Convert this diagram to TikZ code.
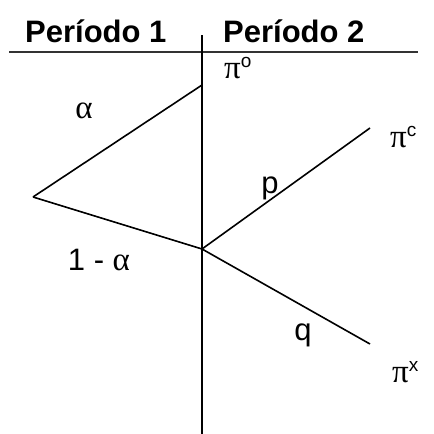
\documentclass[tikz,border=0pt]{standalone}
\usepackage{fontspec}
\setmainfont{Liberation Sans}
\newfontfamily\greekfont{Liberation Serif}
\usepackage{tikz}
\usetikzlibrary{positioning,calc}

\newcommand{\supr}[1]{\raisebox{11pt}{\fontsize{19}{20}\selectfont #1}}
\newcommand{\gr}[1]{{\greekfont\fontsize{33}{36}\selectfont #1}}

\begin{document}
\begin{tikzpicture}[
    x=1pt,y=-1pt,
    branch/.style={line width=1.6pt,draw=black},
    divider/.style={line width=2pt,draw=black},
    header/.style={font=\fontsize{31}{36}\selectfont\bfseries,anchor=base west,inner sep=0pt},
    lbl/.style={font=\fontsize{31}{36}\selectfont,inner sep=0pt}
  ]
    \useasboundingbox (0,0) rectangle (434,434);

    % period headers and divider lines
    \node[header] (per1) at (25,42) {Período 1};
    \node[header] (per2) at (223,42) {Período 2};
    \coordinate (hl) at (9,52);
    \coordinate (hr) at (418,52);
    \coordinate (vt) at (202,35);
    \coordinate (vb) at (202,434);
    \draw[line width=1.4pt,draw=black!80] (hl) -- (hr);
    \draw[divider] (vt) -- (vb);

    % tree
    \coordinate (root) at (33,197);
    \coordinate (up) at (202,85);
    \coordinate (mid) at (202,249);
    \coordinate (pc) at (370,128);
    \coordinate (px) at (370,344);
    \draw[branch] (root) -- (up);
    \draw[branch] (root) -- (mid);
    \draw[branch] (mid) -- (pc);
    \draw[branch] (mid) -- (px);

    % labels
    \node[lbl,anchor=base] (alpha) at (84,118) {\gr{α}};
    \node[lbl,anchor=base] (notalpha) at (99,270) {1 - \gr{α}};
    \node[lbl,anchor=base west] (pio) at (224,78) {\gr{π}\supr{o}};
    \node[lbl,anchor=base west] (pic) at (390,147) {\gr{π}\supr{c}};
    \node[lbl,anchor=base west] (pix) at (392,382) {\gr{π}\supr{x}};
    \node[lbl,anchor=base] (plbl) at (270,193) {p};
    \node[lbl,anchor=base] (qlbl) at (303,340) {q};
  \end{tikzpicture}
\end{document}
